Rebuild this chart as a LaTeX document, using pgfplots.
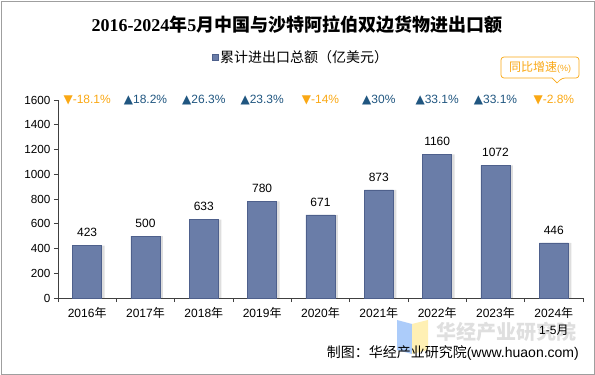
\documentclass[border=0pt]{standalone}
\usepackage{fontspec}
\usepackage{pgfplots}
\pgfplotsset{compat=1.18}
\setmainfont{Liberation Sans}
\newfontfamily\cjk{Noto Sans CJK SC}
\newfontfamily\serif{Liberation Serif}
\newfontfamily\sym{DejaVu Sans}
\definecolor{barblue}{RGB}{106,125,168}
\definecolor{baredge}{RGB}{78,96,140}
\definecolor{upblue}{RGB}{32,86,128}
\definecolor{downorg}{RGB}{250,168,20}
\definecolor{logoblue}{RGB}{172,204,250}
\definecolor{logoyel}{RGB}{255,240,180}
\begin{document}
\begin{tikzpicture}
\useasboundingbox (0pt,0pt) rectangle (595pt,375pt);
\draw[gray!75, line width=0.8pt] (1pt,1pt) rectangle (594pt,374pt);
% watermark
\fill[logoblue] (397pt,25pt) -- (397pt,55pt) -- (412pt,51pt) -- (412pt,21pt) -- cycle;
\fill[logoyel] (412pt,21pt) -- (412pt,51pt) -- (428pt,55pt) -- (428pt,25pt) -- cycle;
\node[font=\fontsize{20}{22}\selectfont\cjk\bfseries, text=gray!25, inner sep=0pt] at (506pt,43pt) {华经产业研究院};
% title
\node[font=\fontsize{18}{21}\selectfont\bfseries] at (297pt,350pt) {\serif 2016-2024{\cjk 年}5{\cjk 月中国与沙特阿拉伯双边货物进出口额}};
\begin{axis}[
  at={(58pt,77pt)}, anchor=south west, scale only axis,
  width=525pt, height=198pt,
  xmin=-0.5, xmax=8.5, ymin=0, ymax=1600,
  axis x line=bottom, axis y line=left,
  axis line style={-, draw=black!75, line width=0.7pt},
  tick align=outside,
  ytick={0,200,...,1600},
  yticklabel style={font=\fontsize{11.7}{13}\selectfont},
  /pgf/number format/assume math mode=true,
  /pgf/number format/1000 sep={},
  major tick length=4pt,
  tick style={black!75, line width=0.6pt},
  xtick={0,...,8},
  xticklabels={{2016\cjk 年},{2017\cjk 年},{2018\cjk 年},{2019\cjk 年},{2020\cjk 年},{2021\cjk 年},{2022\cjk 年},{2023\cjk 年},{2024{\cjk 年}\\1-5{\cjk 月}}},
  xticklabel style={font=\fontsize{12}{17}\selectfont, align=center, anchor=north, yshift=-2pt},
  x tick style={draw=none},
  minor xtick={-0.5,0.5,...,8.5},
  minor x tick style={draw=black!75, line width=0.6pt},
  minor tick length=4pt,
  clip=false,
  legend style={at={(0.463,1.217)}, anchor=center, draw=none, fill=none,
    font=\fontsize{14}{16}\selectfont, legend cell align=left,
    /tikz/every even column/.append style={column sep=2pt}},
  legend image code/.code={\fill[barblue, draw=baredge, line width=0.3pt] (0pt,-3pt) rectangle (6pt,3pt);},
]
\addplot[ybar, bar width=29pt, bar shift=3pt, fill=black, opacity=0.13, draw=none, forget plot]
  coordinates {(0,423) (1,500) (2,633) (3,780) (4,671) (5,873) (6,1160) (7,1072) (8,446)};
\addplot[ybar, bar width=29pt, bar shift=0pt, fill=barblue, draw=baredge, line width=0.5pt,
  nodes near coords, nodes near coords style={font=\fontsize{12}{14}\selectfont, text=black, yshift=5pt}]
  coordinates {(0,423) (1,500) (2,633) (3,780) (4,671) (5,873) (6,1160) (7,1072) (8,446)};
\addlegendentry{\cjk 累计进出口总额（亿美元）}
\begin{scope}[every node/.style={font=\fontsize{12}{14}\selectfont, inner sep=0pt}]
\node[text=downorg] at (axis cs:0,1600) {{\sym ▼}-18.1\%};
\node[text=upblue] at (axis cs:1,1600) {{\sym ▲}18.2\%};
\node[text=upblue] at (axis cs:2,1600) {{\sym ▲}26.3\%};
\node[text=upblue] at (axis cs:3,1600) {{\sym ▲}23.3\%};
\node[text=downorg] at (axis cs:4,1600) {{\sym ▼}-14\%};
\node[text=upblue] at (axis cs:5,1600) {{\sym ▲}30\%};
\node[text=upblue] at (axis cs:6,1600) {{\sym ▲}33.1\%};
\node[text=upblue] at (axis cs:7,1600) {{\sym ▲}33.1\%};
\node[text=downorg] at (axis cs:8,1600) {{\sym ▼}-2.8\%};
\end{scope}
\end{axis}
% callout
\draw[downorg, line width=0.7pt, fill=white, rounded corners=3pt]
  (501pt,297pt) -- (501pt,318pt) -- (579pt,318pt) -- (579pt,297pt) -- (562pt,297pt) [sharp corners] -- (557pt,292pt) -- (552pt,297pt) [rounded corners=3pt] -- cycle;
\node[text=downorg, font=\fontsize{12}{14}\selectfont] at (540pt,307.5pt) {{\cjk 同比增速}{\fontsize{9}{10}\selectfont(\%)}};
% source
\node[anchor=east, font=\fontsize{14}{16}\selectfont, inner sep=0pt] at (579pt,22pt) {{\cjk 制图：华经产业研究院}(www.huaon.com)};
\end{tikzpicture}
\end{document}
